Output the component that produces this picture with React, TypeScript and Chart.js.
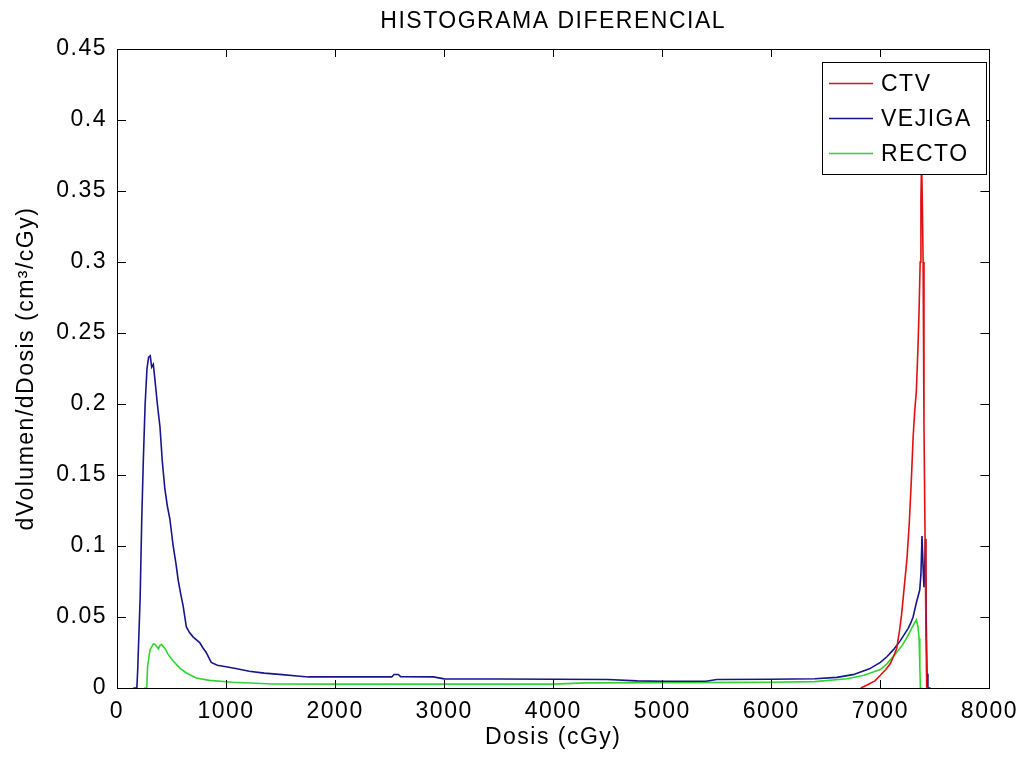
import { useEffect, useRef } from "react";
import Chart from "chart.js/auto";

// ---- data ----
const chartTitle = "HISTOGRAMA DIFERENCIAL";
const xTitle = "Dosis (cGy)";
const yTitle = "dVolumen/dDosis (cm³/cGy)";
const seriesNames = ["CTV", "VEJIGA", "RECTO"];

const ctvDose = [6820, 6850, 6900, 6950, 7000, 7050, 7090, 7120, 7150, 7175, 7195, 7210, 7225, 7245, 7265, 7285, 7300, 7315, 7330, 7345, 7355, 7365, 7372, 7378, 7384, 7392, 7400, 7410, 7418, 7425, 7440];
const ctvValue = [0, 0.001, 0.003, 0.005, 0.009, 0.013, 0.017, 0.022, 0.028, 0.04, 0.052, 0.064, 0.076, 0.092, 0.116, 0.148, 0.176, 0.195, 0.209, 0.24, 0.266, 0.3, 0.345, 0.372, 0.345, 0.3, 0.185, 0.105, 0.04, 0, 0];

const vejigaDose = [150, 182, 190, 212, 227, 242, 258, 275, 290, 305, 318, 333, 348, 370, 394, 415, 439, 462, 485, 515, 540, 561, 585, 606, 636, 665, 697, 758, 790, 818, 864, 920, 1000, 1100, 1212, 1350, 1515, 1650, 1758, 2000, 2400, 2520, 2540, 2580, 2600, 2900, 3000, 3500, 4000, 4500, 4770, 5000, 5400, 5500, 6000, 6400, 6600, 6750, 6900, 7000, 7060, 7120, 7180, 7230, 7255, 7280, 7300, 7330, 7361, 7372, 7382, 7392, 7400, 7408, 7414, 7420, 7428, 7436, 7460];
const vejigaValue = [0, 0, 0.013, 0.063, 0.119, 0.162, 0.2, 0.225, 0.233, 0.234, 0.226, 0.228, 0.217, 0.2, 0.184, 0.16, 0.14, 0.128, 0.119, 0.1, 0.088, 0.076, 0.066, 0.058, 0.043, 0.039, 0.036, 0.032, 0.028, 0.025, 0.018, 0.016, 0.015, 0.0135, 0.0118, 0.0105, 0.0094, 0.0085, 0.0078, 0.0078, 0.0078, 0.0078, 0.0095, 0.0095, 0.008, 0.0078, 0.0064, 0.0063, 0.0062, 0.006, 0.005, 0.0048, 0.0048, 0.006, 0.0062, 0.0065, 0.0075, 0.0094, 0.0135, 0.018, 0.022, 0.027, 0.033, 0.039, 0.042, 0.046, 0.05, 0.06, 0.069, 0.08, 0.107, 0.085, 0.071, 0.09, 0.105, 0.05, 0.01, 0, 0];

const rectoDose = [250, 273, 280, 303, 318, 333, 348, 365, 379, 394, 409, 425, 439, 470, 515, 576, 636, 727, 848, 1061, 1424, 2000, 3000, 4000, 4300, 5000, 6000, 6400, 6694, 6850, 7000, 7060, 7148, 7200, 7239, 7300, 7330, 7345, 7355, 7362, 7367, 7380];
const rectoValue = [0, 0, 0.015, 0.027, 0.029, 0.031, 0.0306, 0.029, 0.0275, 0.03, 0.0306, 0.029, 0.028, 0.0235, 0.019, 0.014, 0.0106, 0.007, 0.0054, 0.004, 0.0028, 0.0027, 0.0027, 0.0027, 0.0036, 0.0038, 0.004, 0.0045, 0.0065, 0.009, 0.013, 0.017, 0.025, 0.03, 0.035, 0.044, 0.048, 0.043, 0.035, 0.015, 0, 0];

const xTicks = [0, 1000, 2000, 3000, 4000, 5000, 6000, 7000, 8000];
const yTicks = [0, 0.05, 0.1, 0.15, 0.2, 0.25, 0.3, 0.35, 0.4, 0.45];

// ---- styles ----
const W = 1028;
const H = 763;
const FONT = "'Liberation Sans', Arial, sans-serif";
const FS = 23;
const SPACING = "1.5px";
const colors = ["#e01010", "#16168a", "#2fd52f"];

const toPoints = (xs: number[], ys: number[]) => xs.map((x, i) => ({ x, y: ys[i] }));

export default function App() {
  const ref = useRef<HTMLCanvasElement | null>(null);

  useEffect(() => {
    if (!ref.current) return;

    const framePlugin = {
      id: "matlabFrame",
      beforeLayout(chart: any) {
        chart.ctx.letterSpacing = SPACING;
      },
      beforeDraw(chart: any) {
        const ctx = chart.ctx;
        ctx.letterSpacing = SPACING;
        ctx.save();
        ctx.fillStyle = "#ffffff";
        ctx.fillRect(0, 0, chart.width, chart.height);
        ctx.restore();
      },
      afterDraw(chart: any) {
        const ctx = chart.ctx;
        const a = chart.chartArea;
        const xs = chart.scales.x;
        const ys = chart.scales.y;
        ctx.save();
        ctx.letterSpacing = SPACING;
        // frame
        ctx.strokeStyle = "#000";
        ctx.lineWidth = 1;
        ctx.strokeRect(Math.round(a.left) + 0.5, Math.round(a.top) + 0.5, Math.round(a.right - a.left), Math.round(a.bottom - a.top));
        // inward ticks
        ctx.beginPath();
        xTicks.forEach((t) => {
          const px = Math.round(xs.getPixelForValue(t)) + 0.5;
          ctx.moveTo(px, a.bottom);
          ctx.lineTo(px, a.bottom - 8);
          ctx.moveTo(px, a.top);
          ctx.lineTo(px, a.top + 8);
        });
        yTicks.forEach((t) => {
          const py = Math.round(ys.getPixelForValue(t)) + 0.5;
          ctx.moveTo(a.left, py);
          ctx.lineTo(a.left + 9, py);
          ctx.moveTo(a.right, py);
          ctx.lineTo(a.right - 9, py);
        });
        ctx.stroke();

        // legend box
        const lx = 822.5, ly = 62.5, lw = 164, lh = 112;
        ctx.fillStyle = "#ffffff";
        ctx.fillRect(lx, ly, lw, lh);
        ctx.strokeStyle = "#000";
        ctx.strokeRect(lx, ly, lw, lh);
        seriesNames.forEach((name, i) => {
          const yy = 83 + i * 35;
          ctx.strokeStyle = colors[i];
          ctx.lineWidth = 1.6;
          ctx.beginPath();
          ctx.moveTo(829, yy + 0.5);
          ctx.lineTo(873, yy + 0.5);
          ctx.stroke();
          ctx.fillStyle = "#000";
          ctx.font = `${FS}px ${FONT}`;
          ctx.textAlign = "left";
          ctx.textBaseline = "alphabetic";
          ctx.fillText(name, 881, yy + 8);
        });

        // title
        ctx.fillStyle = "#000";
        ctx.font = `${FS}px ${FONT}`;
        ctx.textAlign = "center";
        ctx.textBaseline = "alphabetic";
        ctx.fillText(chartTitle, (a.left + a.right) / 2, 28);
        ctx.restore();
      },
    };

    const chart = new Chart(ref.current, {
      type: "line",
      data: {
        datasets: [
          { label: seriesNames[0], data: toPoints(ctvDose, ctvValue), borderColor: colors[0], borderWidth: 1.6, pointRadius: 0, fill: false, tension: 0 },
          { label: seriesNames[1], data: toPoints(vejigaDose, vejigaValue), borderColor: colors[1], borderWidth: 1.6, pointRadius: 0, fill: false, tension: 0 },
          { label: seriesNames[2], data: toPoints(rectoDose, rectoValue), borderColor: colors[2], borderWidth: 1.6, pointRadius: 0, fill: false, tension: 0 },
        ],
      },
      options: {
        responsive: false,
        animation: false,
        devicePixelRatio: 1,
        layout: { padding: { left: 0, top: 49, right: 31, bottom: 0 } },
        plugins: { legend: { display: false }, title: { display: false }, tooltip: { enabled: false } },
        scales: {
          x: {
            type: "linear",
            min: 0,
            max: 8000,
            afterBuildTicks: (s: any) => {
              s.ticks = xTicks.map((v) => ({ value: v }));
            },
            afterFit: (s: any) => {
              s.height = 75;
            },
            ticks: { color: "#000", font: { family: FONT, size: FS }, padding: 10, maxRotation: 0, autoSkip: false, callback: (v: any) => String(v) },
            grid: { display: false, drawTicks: false },
            border: { display: false },
            title: { display: true, text: xTitle, color: "#000", font: { family: FONT, size: FS }, padding: { top: 0, bottom: 12 } },
          },
          y: {
            type: "linear",
            min: 0,
            max: 0.45,
            afterBuildTicks: (s: any) => {
              s.ticks = yTicks.map((v) => ({ value: v }));
            },
            afterFit: (s: any) => {
              s.width = 117;
            },
            ticks: { color: "#000", font: { family: FONT, size: FS }, padding: 10, autoSkip: false, callback: (v: any) => String(Math.round(v * 100) / 100) },
            grid: { display: false, drawTicks: false },
            border: { display: false },
            title: { display: true, text: yTitle, color: "#000", font: { family: FONT, size: FS }, padding: { top: 13, bottom: 0 } },
          },
        },
      },
      plugins: [framePlugin],
    } as any);

    return () => chart.destroy();
  }, []);

  return (
    <div style={{ position: "fixed", left: 0, top: 0, width: W, height: H, background: "#fff" }}>
      <canvas ref={ref} width={W} height={H} style={{ display: "block", width: W, height: H }} />
    </div>
  );
}
